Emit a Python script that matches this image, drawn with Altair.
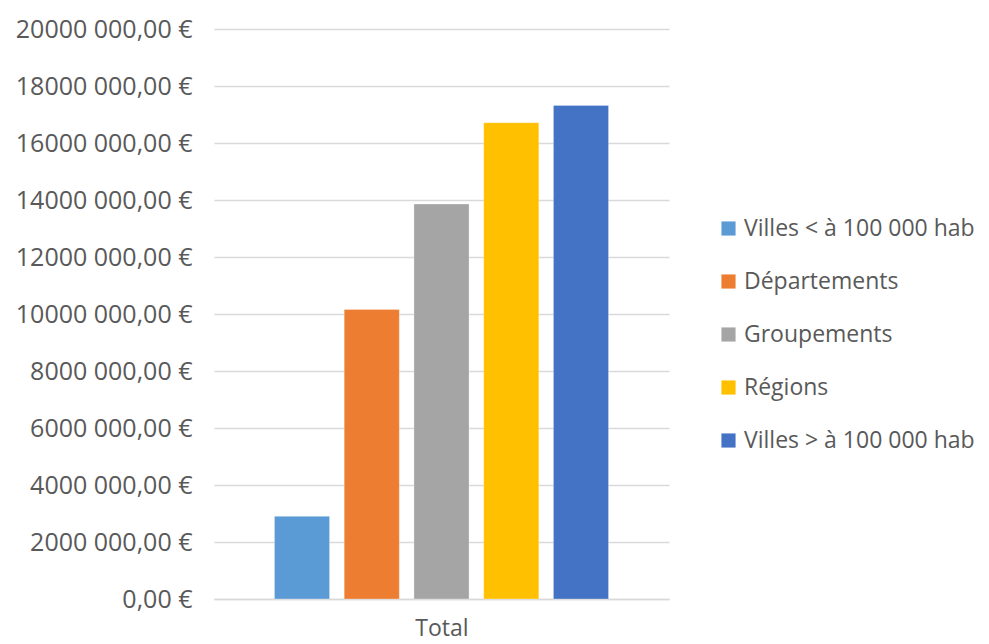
import altair as alt
import pandas as pd

categories = ["Villes < à 100 000 hab", "Départements", "Groupements", "Régions", "Villes > à 100 000 hab"]
values = [2900000, 10160000, 13860000, 16710000, 17320000]
colors = ["#5B9BD5", "#ED7D31", "#A5A5A5", "#FFC000", "#4472C4"]
y_ticks = [0, 2000000, 4000000, 6000000, 8000000, 10000000, 12000000, 14000000, 16000000, 18000000, 20000000]

df = pd.DataFrame({"serie": categories, "valeur": values})

FONT = "Open Sans"
TXT = "#595959"

chart = alt.Chart(df).mark_bar(stroke="white", strokeWidth=0.5, strokeOpacity=0.6).encode(
    x=alt.X("serie:N", sort=categories,
            scale=alt.Scale(paddingInner=0.21, paddingOuter=0.867),
            axis=alt.Axis(title="Total", labels=False, ticks=False, domain=True, grid=False,
                          domainColor="#D9D9D9", domainWidth=1.5,
                          titleFont=FONT, titleFontSize=23, titleColor=TXT,
                          titleFontWeight="normal", titlePadding=18)),
    y=alt.Y("valeur:Q", scale=alt.Scale(domain=[0, 20000000], nice=False),
            axis=alt.Axis(title=None, values=y_ticks, domain=False, ticks=False,
                          gridColor="#D9D9D9", gridWidth=1.5,
                          labelFont=FONT, labelFontSize=25, labelColor=TXT, labelPadding=22,
                          labelExpr="datum.value == 0 ? '0,00 €' : (datum.value / 1000) + ' 000,00 €'")),
    color=alt.Color("serie:N", sort=categories,
                    scale=alt.Scale(domain=categories, range=colors),
                    legend=alt.Legend(title=None, orient="none", legendX=503, legendY=188,
                                      symbolType="square", symbolSize=200, symbolStrokeWidth=0,
                                      labelFont=FONT, labelFontSize=23, labelColor=TXT,
                                      rowPadding=29, labelOffset=4, labelLimit=400)),
).properties(
    width=455, height=570,
    background="white",
    autosize=alt.AutoSizeParams(type="none"),
    padding={"left": 206, "top": 21, "right": 312, "bottom": 42},
).configure_view(stroke=None)

chart.save("out.html", embed_options={"renderer": "svg", "actions": False})
